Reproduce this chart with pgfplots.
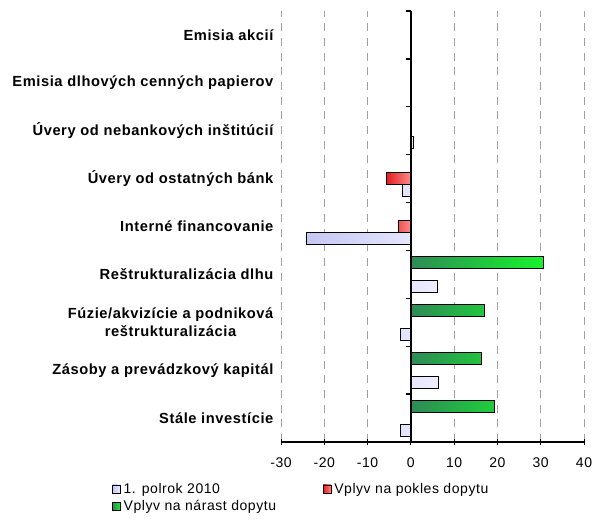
\documentclass[border=0pt]{standalone}
\usepackage{fontspec}
\setmainfont{Liberation Sans}[LetterSpace=4]
\usepackage{pgfplots}
\pgfplotsset{compat=1.18}
\definecolor{lavL}{HTML}{C6C6F4}
\definecolor{lavR}{HTML}{EEEEFF}
\definecolor{redL}{HTML}{E41E1E}
\definecolor{redR}{HTML}{FF8A8A}
\definecolor{grnL}{HTML}{2E8B57}
\definecolor{grnR}{HTML}{16F52A}
\definecolor{gridgrey}{HTML}{A0A0A0}

\begin{document}
\begin{tikzpicture}
\useasboundingbox (-210.75pt,-65.25pt) rectangle (239.25pt,331.5pt);
\begin{axis}[
    at={(0,0)}, anchor=south west,
    width=227.25pt, height=323.25pt, scale only axis,
    xbar=0pt, bar width=9pt,
    xmin=-30, xmax=40, ymin=-0.5, ymax=8.5,
    clip=false,
    axis x line*=bottom, axis y line*=left,
    y axis line style={draw=none},
    xtick={-30,-20,...,40},
    ytick={0,...,8},
    yticklabels={Stále investície, Zásoby a prevádzkový kapitál,
        {Fúzie/akvizície a podniková\\reštrukturalizácia},
        Reštrukturalizácia dlhu, Interné financovanie,
        Úvery od ostatných bánk, Úvery od nebankových inštitúcií,
        Emisia dlhových cenných papierov, Emisia akcií},
    ytick style={draw=none},
    yticklabel style={font=\fontsize{11}{13}\selectfont\bfseries, align=center, inner sep=0pt, xshift=-3pt},
    xticklabel style={font=\fontsize{10.5}{12}\selectfont, yshift=-6pt},
    /pgf/number format/assume math mode=true,
    x tick style={black, line width=0.6pt}, tick align=center, major tick length=5pt,
    x axis line style={black, line width=0.8pt},
    xmajorgrids,
    major grid style={gridgrey, line width=0.5pt, dash pattern=on 6pt off 5pt},
    legend columns=2,
    legend cell align=left,
    legend image code/.code={\draw[#1] (0pt,-3pt) rectangle (6pt,3pt);},
    legend style={draw=none, fill=none, at={(-0.558,-0.088)}, anchor=north west,
        font=\fontsize{10.5}{12}\selectfont, inner sep=0pt, row sep=0pt,
        /tikz/every even column/.append style={column sep=33pt}},
]
% 1. polrok 2010
\addplot[draw=black, line width=0.6pt, left color=lavL, right color=lavR] coordinates {
    (-2.5,0) (6.3,1) (-2.5,2) (6.1,3) (-24.2,4) (-1.9,5) (0.6,6)
};
% Vplyv na pokles dopytu
\addplot[draw=black, line width=0.6pt, left color=redL, right color=redR] coordinates {
    (-2.8,4) (-5.7,5)
};
% Vplyv na narast dopytu
\addplot[draw=black, line width=0.6pt, left color=grnL, right color=grnR] coordinates {
    (19.3,0) (16.4,1) (17.1,2) (30.6,3)
};
\legend{1. polrok 2010, Vplyv na pokles dopytu, Vplyv na nárast dopytu}
\end{axis}
% vertical axis at zero with ticks at the category boundaries
\begin{axis}[
    at={(0,0)}, anchor=south west,
    width=227.25pt, height=323.25pt, scale only axis,
    xmin=-30, xmax=40, ymin=-0.5, ymax=8.5,
    clip=false,
    axis x line=none, axis y line*=middle,
    axis line style={-, black, line width=1.2pt},
    xtick=\empty, ytick=\empty,
]
\draw[black, line width=1pt] (axis cs:0,0.5) -- ([xshift=-4pt]axis cs:0,0.5);
\draw[black, line width=1pt] (axis cs:0,1.5) -- ([xshift=-4pt]axis cs:0,1.5);
\draw[black, line width=1pt] (axis cs:0,2.5) -- ([xshift=-4pt]axis cs:0,2.5);
\draw[black, line width=1pt] (axis cs:0,3.5) -- ([xshift=-4pt]axis cs:0,3.5);
\draw[black, line width=1pt] (axis cs:0,4.5) -- ([xshift=-4pt]axis cs:0,4.5);
\draw[black, line width=1pt] (axis cs:0,5.5) -- ([xshift=-4pt]axis cs:0,5.5);
\draw[black, line width=1pt] (axis cs:0,6.5) -- ([xshift=-4pt]axis cs:0,6.5);
\draw[black, line width=1pt] (axis cs:0,7.5) -- ([xshift=-4pt]axis cs:0,7.5);
\draw[black, line width=1pt] (axis cs:0,8.5) -- ([xshift=-4pt]axis cs:0,8.5);
\end{axis}
\end{tikzpicture}
\end{document}
